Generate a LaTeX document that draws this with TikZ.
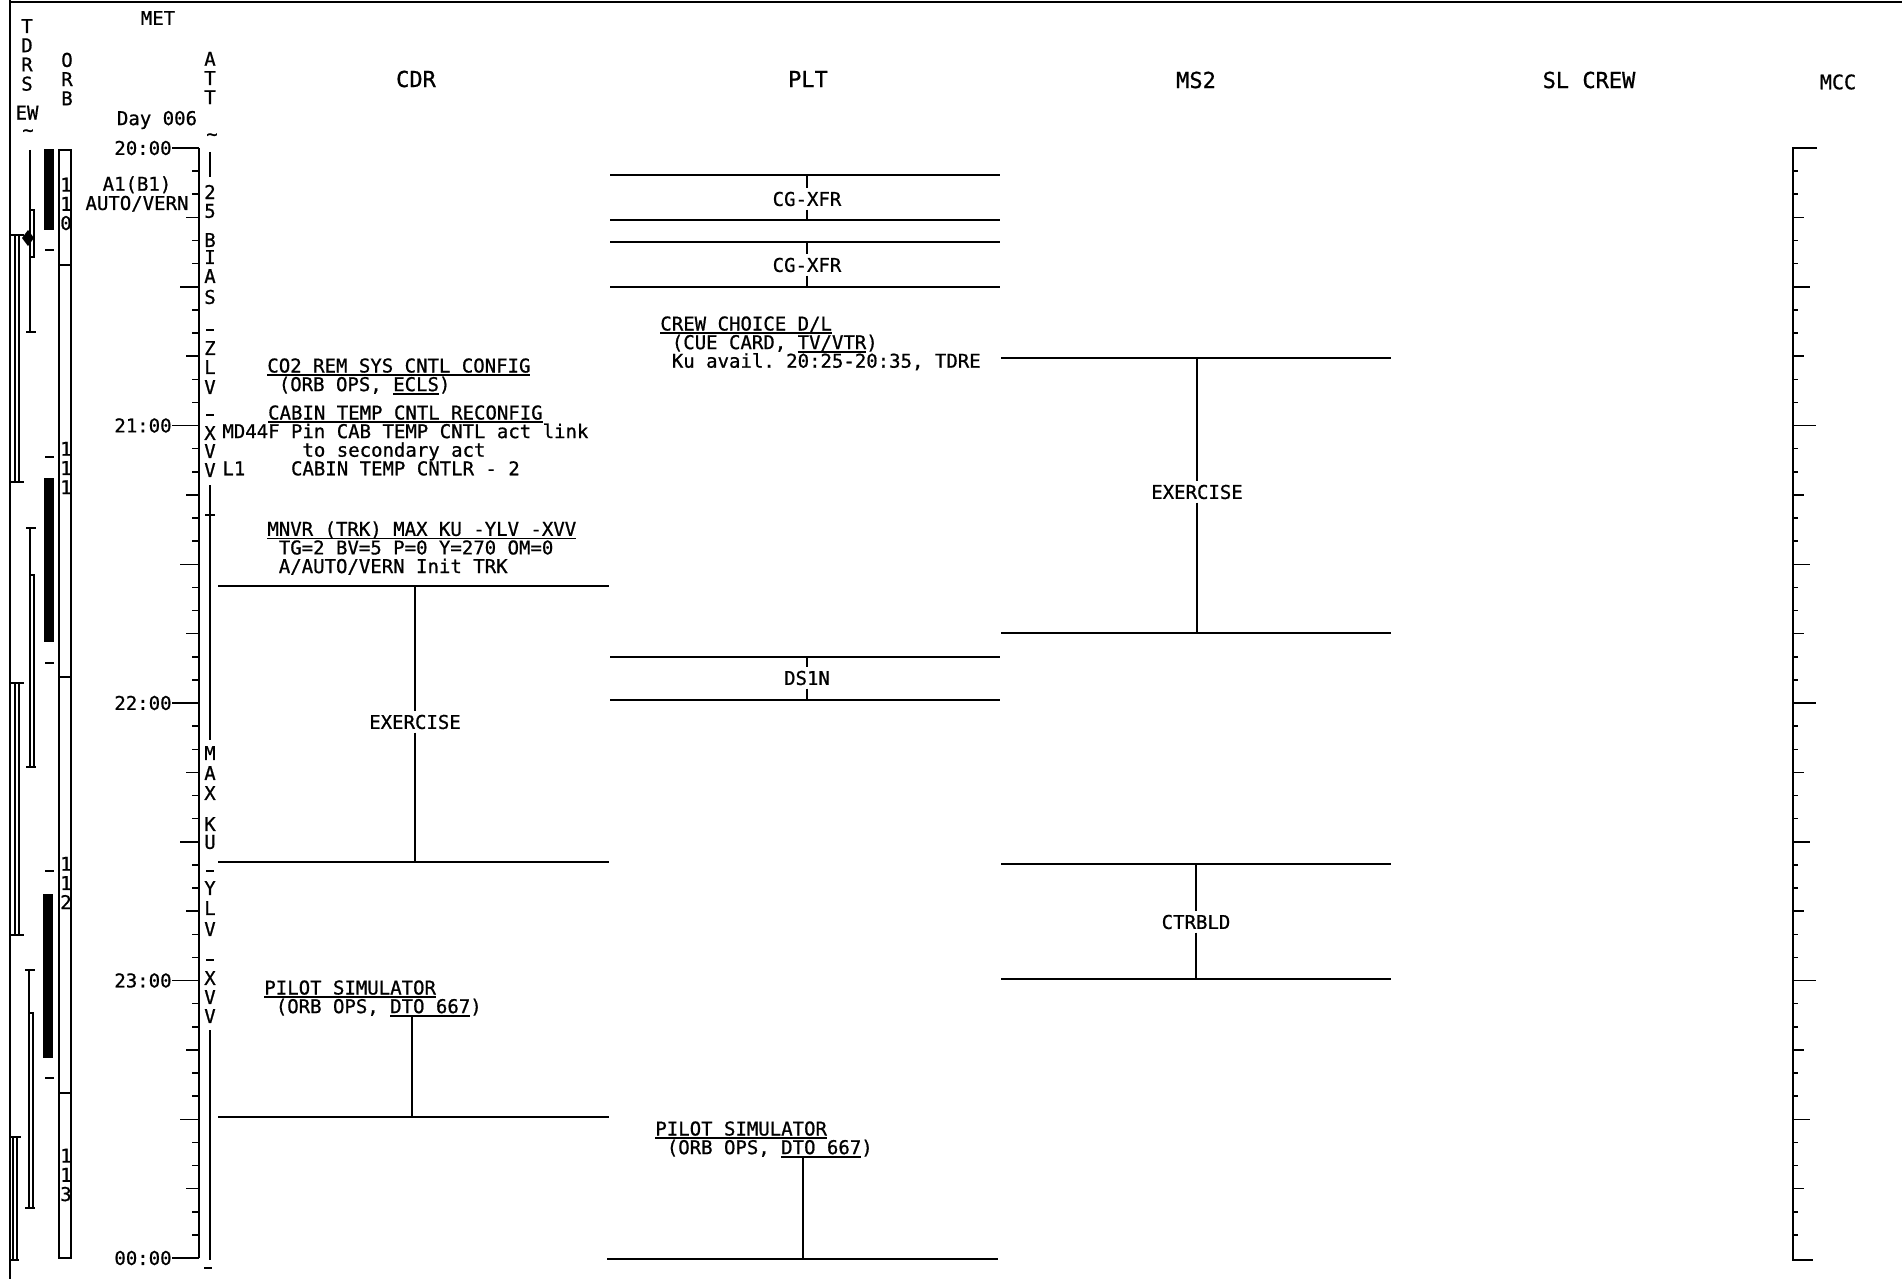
\documentclass[tikz,border=0pt]{standalone}
\usepackage{fontspec}
\setmonofont[FakeBold=0.8]{DejaVu Sans Mono}
\usetikzlibrary{positioning}
\newsavebox{\undrbox}
\newcommand{\undr}[1]{\sbox\undrbox{#1}\rlap{\rule[-1.7pt]{\wd\undrbox}{0.75pt}}\usebox\undrbox}

\begin{document}
\begin{tikzpicture}[
  x=0.5pt, y=-0.5pt,
  font={\ttfamily\fontsize{9.5}{9.3}\selectfont\lineskiplimit=-9pt},
  every node/.append style={inner sep=0pt},
  colhead/.style={font={\ttfamily\fontsize{11}{11}\selectfont}},
  stack/.style={align=center, font={\ttfamily\fontsize{9.5}{9.6}\selectfont\lineskiplimit=-9pt}},
  bar/.style={line width=1.2pt},
  link/.style={line width=0.9pt},
  tick/.style={line width=0.75pt},
  actlabel/.style={fill=white, inner sep=1.5pt},
  note/.style={anchor=north west, align=left}
]
\useasboundingbox (0,0) rectangle (1902,1279);

% frame
\draw[tick] (10,0) -- (10,1279);
\draw[tick] (10,2) -- (1902,2);

% column heads
\node (hdrmet) at (158,18) {MET};
\node[stack] (hdrtdrs) at (27,55) {T\\D\\R\\S};
\node[below=7pt of hdrtdrs] (hdrew) {EW};
\node (tdrstil) at (28,133) {\textasciitilde};
\node[stack] (hdrorb) at (67,79) {O\\R\\B};
\node[stack] (hdratt) at (210,78) {A\\T\\T};
\node (atttil) at (212,137) {\textasciitilde};
\node (hdrday) at (157,120) {Day 006};
\node[colhead] (hdrcdr) at (416,79) {CDR};
\node[colhead] (hdrplt) at (808,79) {PLT};
\node[colhead] (hdrms2) at (1196,80) {MS2};
\node[colhead] (hdrsl) at (1589,80) {SL CREW};
\node[font={\ttfamily\fontsize{10}{10}\selectfont}] (hdrmcc) at (1838,82) {MCC};

% TDRS coverage
\draw[tick] (9,235) -- (24,235) (15,235) -- (15,482) (19,235) -- (19,482) (9,482) -- (24,482);
\draw[tick] (9,683) -- (24,683) (15,683) -- (15,935) (19,683) -- (19,935) (9,935) -- (24,935);
\draw[tick] (9,1137) -- (21,1137) (13,1137) -- (13,1260) (17,1137) -- (17,1260) (9,1260) -- (19,1260);
\draw[tick] (30,150) -- (30,332) (26,332) -- (36,332);
\draw[tick] (30,210) rectangle (34,257);
\fill (22,238) -- (28,230) -- (34,238) -- (28,246) -- cycle;
\draw[tick] (26,528) -- (36,528) (30,528) -- (30,767) (26,767) -- (36,767);
\draw[tick] (30,575) rectangle (34,767);
\draw[tick] (25,970) -- (35,970) (29,970) -- (29,1208) (25,1208) -- (35,1208);
\draw[tick] (29,1013) rectangle (33,1208);

% ORB night / orbit count
\fill (44,149) rectangle (54,230);
\fill (44,478) rectangle (54,642);
\fill (43,894) rectangle (53,1058);
\foreach \y in {250,457,663,871,1078} \draw[tick] (45,\y) -- (54,\y);
\draw[tick] (59,150) rectangle (71,1258);
\foreach \y in {265,677,1093} \draw[tick] (59,\y) -- (71,\y);
\node[stack] (orb110) at (66,204) {1\\1\\0};
\node[stack] (orb111) at (66,468) {1\\1\\1};
\node[stack] (orb112) at (66,883) {1\\1\\2};
\node[stack] (orb113) at (66,1175) {1\\1\\3};

% MET axis
\draw[tick] (199,148) -- (199,1258);
\foreach \m in {5,10,...,235}{
  \pgfmathsetmacro\tk{mod(\m,30)==0 ? 19 : (mod(\m,15)==0 ? 13 : 7)}
  \draw[tick] ({199-\tk},{148+4.625*\m}) -- (199,{148+4.625*\m});
}
\foreach \h/\lab [count=\i from 0] in {20/20:00,21/21:00,22/22:00,23/23:00,00/00:00}{
  \node[anchor=east] (t\h) at (172,{148+277.5*\i}) {\lab};
  \coordinate (ax\h) at (199,{148+277.5*\i});
  \draw[tick] (t\h.east) -- (ax\h);
}
\node[stack] (attmode) at (137,194) {A1(B1)\\AUTO/VERN};

% ATT
\draw[tick] (210,152) -- (210,177);
\foreach \ch/\y in {2/192,5/211,B/240,I/257,A/276,S/297,Z/348,L/367,V/387,X/433,V/451,V/470,
                    M/753,A/773,X/793,K/824,U/842,Y/888,L/908,V/929,X/978,V/997,V/1016}
  \node (att\y) at (210,\y) {\ch};
\foreach \y in {330,415,871,960} \draw[tick] (206,\y) -- (214,\y);
\draw[tick] (210,485) -- (210,740) (205,515) -- (215,515);
\draw[tick] (210,1030) -- (210,1260) (204,1268) -- (212,1268);

% CDR
\node[note] (cdrco2) at (267,358) {\undr{CO2 REM SYS CNTL CONFIG}\\\hphantom{M}(ORB OPS, \undr{ECLS})};
\node[note] (cdrcab) at (222,405) {\hphantom{MMMM}\undr{CABIN TEMP CNTL RECONFIG}\\MD44F Pin CAB TEMP CNTL act link\\\hphantom{MMMMMMM}to secondary act\\L1~~~~CABIN TEMP CNTLR - 2};
\node[note] (cdrmnvr) at (267,521) {\undr{MNVR (TRK) MAX KU -YLV -XVV}\\\hphantom{M}TG=2 BV=5 P=0 Y=270 OM=0\\\hphantom{M}A/AUTO/VERN Init TRK};

\draw[bar] (218,586) -- (609,586) (218,862) -- (609,862);
\coordinate (cdrex-t) at (415,586);
\coordinate (cdrex-b) at (415,862);
\node[actlabel] (cdrex) at (415,722) {EXERCISE};
\draw[link] (cdrex-t) -- (cdrex) -- (cdrex-b);

\node[note] (cdrsim) at (264,980) {\undr{PILOT SIMULATOR}\\\hphantom{M}(ORB OPS, \undr{DTO 667})};
\draw[bar] (218,1117) -- (609,1117);
\coordinate (cdrsim-b) at (412,1117);
\draw[link] (cdrsim-b |- cdrsim.south) -- (cdrsim-b);

% PLT
\draw[bar] (610,175) -- (1000,175) (610,220) -- (1000,220);
\coordinate (xfra-t) at (807,175);
\coordinate (xfra-b) at (807,220);
\node[actlabel] (xfra) at (807,199) {CG-XFR};
\draw[link] (xfra-t) -- (xfra) -- (xfra-b);

\draw[bar] (610,242) -- (1000,242) (610,287) -- (1000,287);
\coordinate (xfrb-t) at (807,242);
\coordinate (xfrb-b) at (807,287);
\node[actlabel] (xfrb) at (807,265) {CG-XFR};
\draw[link] (xfrb-t) -- (xfrb) -- (xfrb-b);

\node[note] (pltcrew) at (660,316) {\undr{CREW CHOICE D/L}\\\hphantom{M}(CUE CARD, \undr{TV/VTR})\\\hphantom{M}Ku avail. 20:25-20:35, TDRE};

\draw[bar] (610,657) -- (1000,657) (610,700) -- (1000,700);
\coordinate (ds1n-t) at (807,657);
\coordinate (ds1n-b) at (807,700);
\node[actlabel] (ds1n) at (807,678) {DS1N};
\draw[link] (ds1n-t) -- (ds1n) -- (ds1n-b);

\node[note] (pltsim) at (655,1121) {\undr{PILOT SIMULATOR}\\\hphantom{M}(ORB OPS, \undr{DTO 667})};
\draw[bar] (607,1259) -- (998,1259);
\coordinate (pltsim-b) at (803,1259);
\draw[link] (pltsim-b |- pltsim.south) -- (pltsim-b);

% MS2
\draw[bar] (1001,358) -- (1391,358) (1001,633) -- (1391,633);
\coordinate (msex-t) at (1197,358);
\coordinate (msex-b) at (1197,633);
\node[actlabel] (msex) at (1197,492) {EXERCISE};
\draw[link] (msex-t) -- (msex) -- (msex-b);

\draw[bar] (1001,864) -- (1391,864) (1001,979) -- (1391,979);
\coordinate (ctr-t) at (1196,864);
\coordinate (ctr-b) at (1196,979);
\node[actlabel] (ctr) at (1196,922) {CTRBLD};
\draw[link] (ctr-t) -- (ctr) -- (ctr-b);

% MCC scale
\draw[tick] (1817,148) -- (1793,148) -- (1793,1260) -- (1813,1260);
\foreach \m in {5,10,...,235}{
  \pgfmathsetmacro\tk{mod(\m,60)==0 ? 23 : (mod(\m,30)==0 ? 17 : (mod(\m,15)==0 ? 11 : 5))}
  \draw[tick] (1793,{148+4.625*\m}) -- ({1793+\tk},{148+4.625*\m});
}
\end{tikzpicture}
\end{document}
